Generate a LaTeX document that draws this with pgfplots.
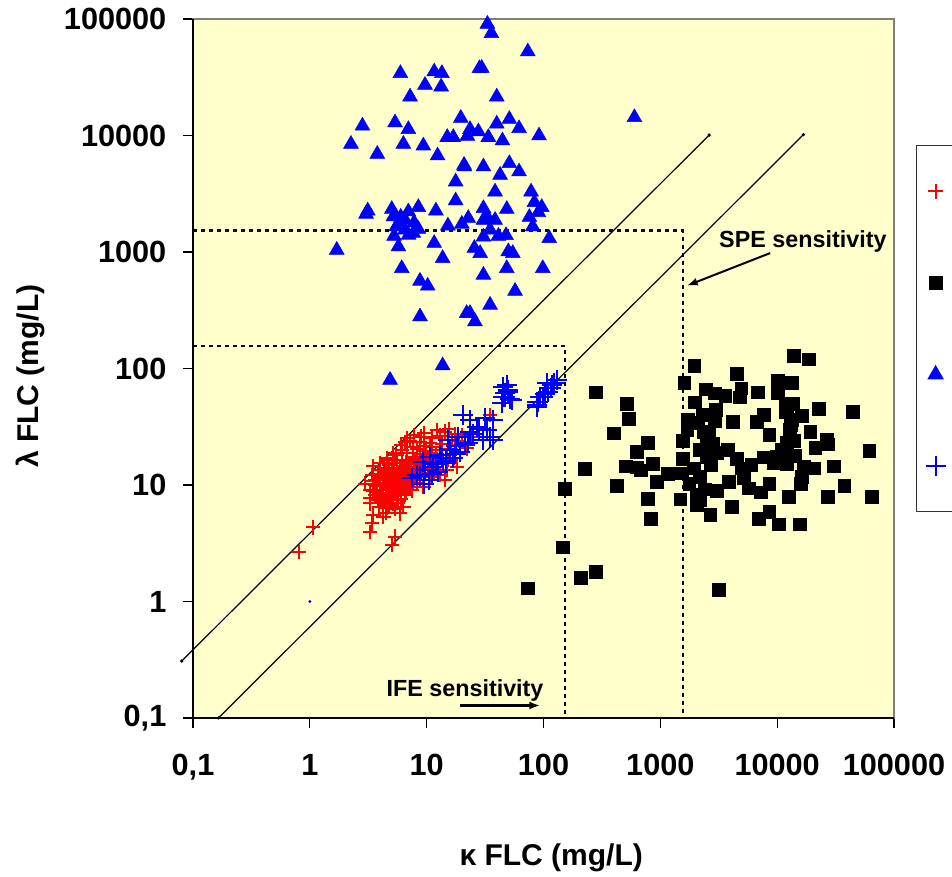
\documentclass[border=0pt]{standalone}
\usepackage{fontspec}
\setmainfont{Liberation Sans}
\usepackage{pgfplots}
\pgfplotsset{compat=1.18}
\usetikzlibrary{arrows.meta,calc}
\definecolor{plotbg}{RGB}{255,255,204}
\definecolor{framegray}{RGB}{128,128,128}

\begin{document}
\begin{tikzpicture}
\begin{axis}[name=ax, scale only axis, width=525.75pt, height=524.25pt,
  xmode=log, ymode=log, xmin=0.1, xmax=100000, ymin=0.1, ymax=100000,
  xminorticks=false, yminorticks=false,
  xtick={0.1,1,10,100,1000,10000,100000},
  xticklabels={{0,1},1,10,100,1000,10000,100000},
  ytick={0.1,1,10,100,1000,10000,100000},
  yticklabels={{0,1},1,10,100,1000,10000,100000},
  tick align=outside, xtick pos=left, ytick pos=left, major tick length=7.5pt,
  tick style={black, line width=0.9pt},
  axis line style={framegray, line width=1pt},
  axis background/.style={fill=plotbg},
  ticklabel style={font=\bfseries\fontsize{23}{23}\selectfont},
  xticklabel style={yshift=-16pt},
  yticklabel style={xshift=-9pt},
  label style={font=\bfseries\fontsize{22.5}{26}\selectfont},
  xlabel={κ FLC (mg/L)}, ylabel={λ FLC (mg/L)},
  xlabel style={at={(axis description cs:0.511,-0.2)}, anchor=center},
  ylabel style={at={(axis description cs:-0.2325,0.489)}, anchor=center},
  clip=false,
  legend cell align=left,
  legend style={at={(1.031,0.8197)}, anchor=north west, draw=black!80,
    line width=0.8pt, fill=white, row sep=52pt, inner xsep=7pt, inner ysep=26pt,
    font=\fontsize{16}{16}\selectfont},
  after end axis/.code={
    \draw[black, line width=1pt] (rel axis cs:0,1) -- (rel axis cs:0,0) -- (rel axis cs:1,0);
  },
]
% reference lines and sensitivity limits
\addplot[black, line width=0.9pt, mark=*, mark size=0.7pt, forget plot] coordinates {(0.08,0.308) (2620,10090)};
\addplot[black, line width=0.9pt, mark=*, mark size=0.7pt, forget plot] coordinates {(0.165,0.1) (16800,10180)};
\addplot[black, line width=1.7pt, dash pattern=on 3pt off 3pt, forget plot] coordinates {(0.1,155) (153,155) (153,0.1)};
\addplot[black, line width=1.7pt, dash pattern=on 3pt off 3pt, forget plot] coordinates {(0.1,1530) (1560,1530) (1560,0.1)};

% red crosses
\addplot[only marks, mark=+, mark size=5.4pt, red, mark options={red, line width=1.5pt}] coordinates {
(0.80,2.67) (1.07,4.33) (3.28,3.97) (3.39,4.69) (5.36,3.60) (5.03,3.05) (3.50,5.52) (4.26,5.35)
(3.28,6.96) (2.97,10.3) (3.39,12.2) (3.74,8.77) (3.99,13.4) (4.55,16.4) (5.19,18.7) (6.76,25.2)
(8.77,23.5) (12.2,29.6) (14.4,28.7) (16.4,24.3) (20.0,26.9) (22.0,20.6) (26.9,31.6) (34.9,39.9)
(14.4,11.0) (13.0,12.2) (10.7,11.8) (9.08,16.4) (7.69,17.5) (6.32,14.4) (5.55,11.8) (4.86,9.68)
(4.70,7.94) (5.55,7.43) (6.32,6.52) (5.92,5.71) (5.19,6.96) (4.26,8.49) (3.99,11.0) (7.21,9.68)
(8.22,13.4) (11.4,16.4) (13.0,20.0) (15.3,16.4) (14.9,13.4) (18.1,14.4) (10.7,22.8) (7.69,21.3)
(6.12,20.0) (5.55,16.4) (5.03,13.9) (4.40,12.6) (3.61,11.0) (3.86,7.43) (4.55,6.31) (5.36,9.06)
(6.53,8.20) (7.69,11.0) (9.37,9.68) (6.97,11.8)
(4.0,9.0) (4.3,10.5) (4.6,11.5) (4.9,8.5) (5.2,10.0) (5.5,12.5) (5.8,9.5) (6.1,11.0) (6.4,9.8)
(6.7,12.8) (7.0,10.4) (7.3,13.6) (4.1,7.2) (4.7,7.0) (5.1,8.0) (5.7,8.4) (6.0,7.6) (6.6,10.8)
(7.9,12.0) (8.5,14.2) (9.0,12.8) (3.7,9.8) (3.9,11.8) (4.4,13.2) (4.8,14.8) (5.3,15.5) (5.9,14.0)
(6.2,16.5) (7.1,15.0) (8.0,16.8) (8.7,18.5) (9.8,19.5) (10.5,14.0) (11.5,13.0) (12.5,16.0)
(16.0,20.5) (17.5,22.0) (6.8,18.8) (9.5,21.5) (4.5,5.8) (5.4,6.2) (3.6,8.2) (4.2,9.9) (5.0,11.8)
(5.6,10.6) (6.3,12.2) (7.5,9.0) (8.2,10.5) (3.3,9.0) (3.45,10.8)
(3.3,7.8) (3.5,8.8) (3.6,10.0) (3.8,12.5) (3.9,6.5) (4.1,8.2) (4.2,11.2) (4.3,14.0) (4.4,7.6)
(4.5,9.4) (4.6,10.2) (4.7,12.0) (4.8,6.8) (4.9,9.9) (5.0,7.4) (5.1,10.9) (5.2,12.9) (5.3,8.7)
(5.4,11.4) (5.5,9.2) (5.6,13.2) (5.7,7.0) (5.8,11.9) (5.9,10.1) (6.0,8.9) (6.1,13.0) (6.2,9.4)
(6.3,11.5) (6.4,14.6) (6.5,10.5) (6.6,8.6) (6.7,15.6) (6.9,9.9) (7.0,12.3) (7.2,11.2) (7.4,14.3)
(7.6,10.3) (7.8,16.0) (8.1,11.6) (8.4,13.0) (8.8,15.5) (9.2,14.0) (9.6,17.0) (10.2,16.5)
(10.8,19.0) (11.2,21.0) (12.0,18.5) (13.5,22.5) (15.0,18.0) (17.0,17.0) (19.0,24.0) (24.0,26.0)
(5.5,18.0) (6.0,22.0) (7.2,24.0) (8.3,20.5) (9.0,26.0) (4.0,15.5) (4.6,17.0) (3.5,14.5)
(9.5,28.0) (11.0,25.5) (13.0,26.5) (15.5,30.0) (17.5,27.5) (7.8,27.0) (6.5,23.5)
};

% black squares
\addplot[only marks, mark=square*, mark size=4.8pt, black] coordinates {
(13800,128) (18500,120) (1950,105) (4520,89.7) (1600,75.5) (282,62.5) (2450,66.3) (2940,61.2)
(3590,58.4) (4920,67.6) (4760,56.6) (6840,62.5) (10070,78.2) (13400,75.5) (10070,61.2) (516,49.6)
(1960,51.3) (3000,44.0) (11900,50.3) (13600,49.6) (22600,44.9) (44200,42.6) (533,36.9) (1720,36.1)
(2080,34.3) (2940,35.4) (4180,34.9) (6700,34.9) (7740,39.9) (11900,42.6) (16300,39.3) (13400,36.1)
(402,27.8) (8550,26.9) (12900,29.7) (19200,28.7) (2340,28.7) (2500,24.3) (782,23.1) (1560,23.9)
(2790,22.8) (3050,18.9) (2190,20.0) (629,19.3) (12100,23.1) (26700,24.3) (21200,20.9) (27300,22.4)
(61300,19.6) (2500,17.5) (4520,16.7) (7740,17.3) (9940,17.5) (14300,17.7) (12100,15.1) (224,13.7)
(509,14.5) (629,14.2) (863,15.1) (685,13.4) (1560,16.9) (1530,12.6) (1920,13.9) (2190,11.8)
(4990,13.9) (5150,11.6) (9300,15.4) (17000,14.4) (30300,14.5) (20500,13.9) (1160,12.4) (933,10.7)
(424,9.87) (151,9.25) (1770,10.3) (3050,8.94) (3830,10.7) (5680,9.37) (7250,8.66) (8550,10.2)
(16000,10.2) (16300,11.8) (37500,9.87) (782,7.59) (1480,7.54) (2050,8.20) (2050,6.73) (12500,7.94)
(27200,7.94) (64700,7.94) (834,5.17) (2670,5.52) (4100,6.52) (6920,5.11) (8550,5.90) (10400,4.60)
(15700,4.60) (146,2.92) (210,1.61) (282,1.80) (3140,1.26) (72.8,1.30)
(2300,40) (1700,30) (2700,15) (2400,9.2) (3800,20) (11000,20) (13000,33) (12000,45) (6000,15)
(2200,7.5) (2600,27) (14000,24)
};

% blue triangles
\addplot[only marks, mark=triangle*, mark size=6.4pt, blue] coordinates {
(33.1,90600) (35.8,75300) (73.4,52400) (28.3,37700) (29.6,37900) (5.96,34200) (11.6,35300)
(13.5,34200) (9.68,27100) (13.3,26200) (7.21,21500) (39.8,21500) (2.82,12100) (5.36,12900)
(6.97,11300) (19.6,14100) (23.5,11300) (27.7,10800) (39.8,12600) (51.0,13800) (61.8,11500)
(91.6,9960) (2.25,8450) (6.32,8450) (9.37,8170) (3.78,6930) (12.4,6710) (15.0,9660) (16.9,9660)
(22.3,9900) (33.7,9660) (44.5,9030) (20.9,5580) (30.6,5400) (51.0,5770) (61.8,4890) (42.5,4580)
(17.7,4010) (38.5,3290) (78.3,3290) (17.7,2760) (3.13,2260) (3.03,2120) (5.03,2330) (5.19,2010)
(6.97,2220) (8.49,2420) (12.0,2260) (30.6,2370) (48.5,2330) (83.6,2670) (96.6,2420) (90.4,2190)
(75.7,1990) (80.9,1650) (30.6,1880) (38.5,1880) (22.7,1950) (20.0,1740) (15.2,1680) (5.92,1820)
(7.80,1790) (8.49,1570) (6.53,1550) (5.26,1370) (7.69,1450) (34.9,1550) (30.6,1350) (41.1,1370)
(47.8,1390) (112,1310) (5.73,1110) (1.70,1040) (11.6,1190) (25.6,1080) (28.7,975) (50.0,1010)
(54.6,975) (13.7,883) (6.12,724) (48.5,724) (98.6,724) (30.6,635) (8.77,564) (10.2,511) (57.1,462)
(34.9,351) (8.77,279) (22.0,298) (25.9,253) (23.5,298) (600,14300) (4.86,79.6) (13.7,106)
(6.0,2000) (5.5,1650) (6.5,1900) (21,5400) (7.0,1400) (33,2000)
};

% blue crosses
\addplot[only marks, mark=+, mark size=7.5pt, blue, mark options={blue, line width=1.5pt}] coordinates {
(45.4,69.8) (50.0,63.2) (46.9,57.3) (53.6,53.7) (43.9,50.2) (90.4,51.9) (99.8,57.3) (118,72.1)
(130,79.6) (110,63.2) (87.7,47.0) (20.6,39.9) (31.6,37.4) (37.2,36.1) (26.9,31.6) (23.5,28.7)
(34.9,26.0) (30.6,24.3) (21.3,22.0) (15.8,20.0) (13.0,18.1) (10.7,17.5) (16.9,16.9) (13.9,15.3)
(11.4,14.4) (9.68,13.4) (8.22,12.2) (7.45,11.4) (9.37,15.8) (19.3,19.3) (15.3,24.3) (18.7,26.0)
(48.5,72.1) (45.4,57.3) (107,74.6) (87.7,51.9) (23.5,36.1) (32.7,29.6) (37.2,24.3) (122,74.6)
(93.5,57.3) (87.7,48.6) (9.4,10.2) (10.5,11.0) (8.8,12.0) (12.5,13.0) (14.5,16.0) (17.5,18.5)
(11.0,12.5) (22.5,23.0) (25.0,27.5) (28.0,30.0) (18.0,21.5) (13.5,17.0) (12.0,15.0) (50,66)
(52,55) (47,62) (102,60) (115,68)
};

\addplot[only marks, mark=*, mark size=0.9pt, blue, forget plot] coordinates {(1,1)};

\legend{\strut\hspace*{60pt},\strut\hspace*{60pt},\strut\hspace*{60pt},\strut\hspace*{60pt}}

% annotations
\node[font=\bfseries\fontsize{17.5}{17.5}\selectfont] at (axis cs:16600,1220) {SPE sensitivity};
\draw[-{Latex[length=8pt,width=6pt]}, line width=1.5pt] (axis cs:8710,979) -- (axis cs:1690,514);
\node[font=\bfseries\fontsize{17.5}{17.5}\selectfont] at (axis cs:21.3,0.174) {IFE sensitivity};
\draw[-{Latex[length=8pt,width=6pt]}, line width=1.6pt] (axis cs:19.3,0.128) -- (axis cs:93.5,0.128);
\end{axis}
\pgfresetboundingbox
\path[use as bounding box] ($(ax.south west)+(-144.75pt,-119.25pt)$) rectangle ($(ax.south west)+(569.25pt,538.5pt)$);
\end{tikzpicture}
\end{document}
